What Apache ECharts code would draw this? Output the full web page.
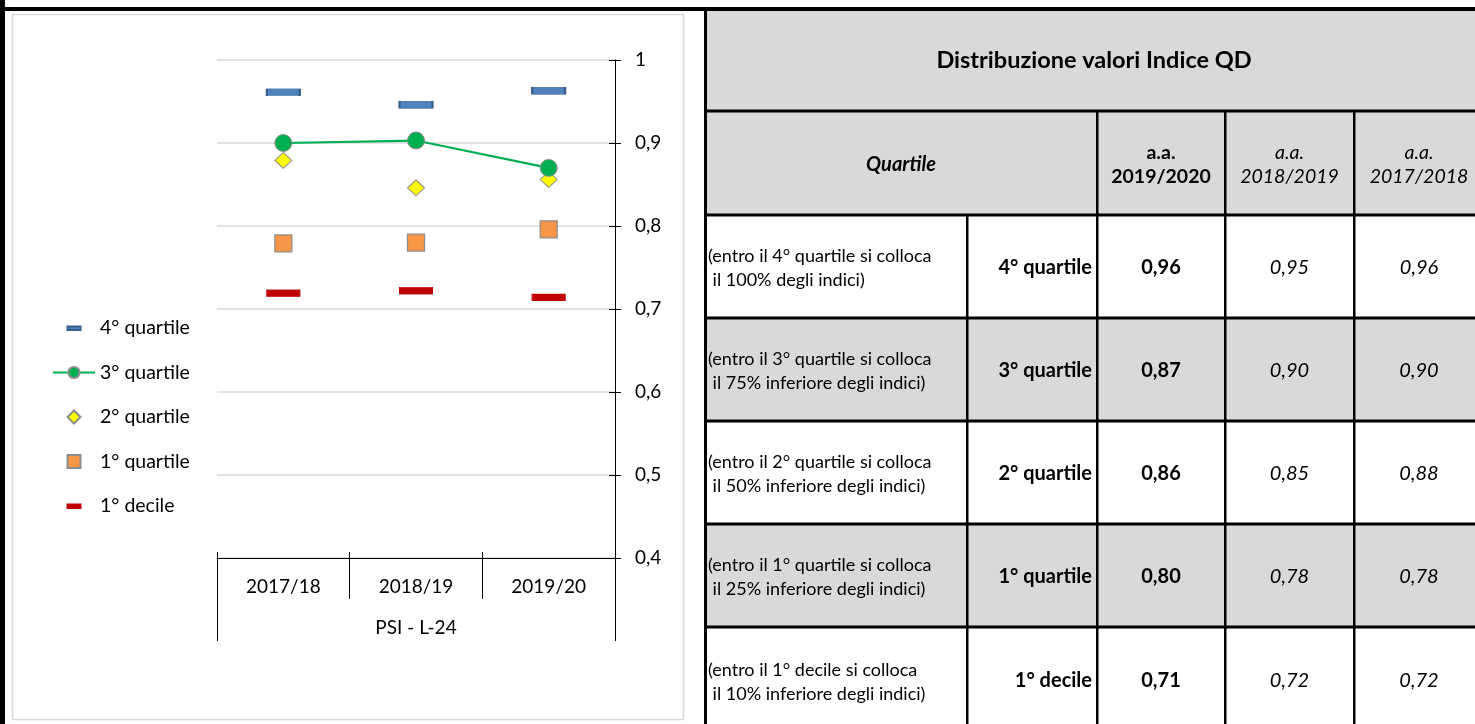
<!DOCTYPE html>
<html>
<head>
<meta charset="utf-8">
<script src="https://cdn.jsdelivr.net/npm/echarts/dist/echarts.min.js"></script>
<style>
html,body{margin:0;padding:0;background:#ffffff;}
#chart{width:1475px;height:724px;}
</style>
</head>
<body>
<div id="chart"></div>
<script>
// ---------- data ----------
const categories = ['2017/18', '2018/19', '2019/20'];
const groupLabels = ['PSI - L-24'];
const seriesNames = ['4° quartile', '3° quartile', '2° quartile', '1° quartile', '1° decile'];
const quartile4 = [0.961, 0.946, 0.963];
const quartile3 = [0.900, 0.903, 0.870];
const quartile2 = [0.879, 0.846, 0.856];
const quartile1 = [0.779, 0.780, 0.796];
const decile1 = [0.719, 0.722, 0.714];
const yMin = 0.4;
const yMax = 1;
const yStep = 0.1;

const tableTitle = 'Distribuzione valori Indice QD';
const headerQuartile = 'Quartile';
const yearHeaders = ['a.a.\n2019/2020', 'a.a.\n2018/2019', 'a.a.\n2017/2018'];
const yearIndexOrder = [2, 1, 0];
const rowLabels = ['4° quartile', '3° quartile', '2° quartile', '1° quartile', '1° decile'];
const rowNotes = [
  '(entro il 4° quartile si colloca\n il 100% degli indici)',
  '(entro il 3° quartile si colloca\n il 75% inferiore degli indici)',
  '(entro il 2° quartile si colloca\n il 50% inferiore degli indici)',
  '(entro il 1° quartile si colloca\n il 25% inferiore degli indici)',
  '(entro il 1° decile si colloca\n il 10% inferiore degli indici)'
];

// ---------- styling ----------
const FONT = 'Lato';
const GRID_GRAY = '#d9d9d9';
const CELL_GRAY = '#d9d9d9';
const fmt = v => Number(v).toFixed(2).replace('.', ',');

const dashIcon = 'path://M0,0M42,14M14.5,5.5h13v3.5h-13z';
const diamondIcon = 'path://M0,0M42,14M21,0.5L27.5,7L21,13.5L14.5,7Z';
const squareIcon = 'path://M0,0M42,14M14.5,0.5h13v13h-13z';

// ---------- table graphics ----------
const colX = [705, 967, 1097, 1225, 1354, 1484];
const rowY = [11, 111, 215, 318, 421, 524, 627, 737];
const g = [];

// page frame
g.push({type: 'rect', shape: {x: 0, y: 0, width: 5, height: 724}, style: {fill: '#000'}, z: 10});
g.push({type: 'rect', shape: {x: 0, y: 7, width: 1475, height: 4}, style: {fill: '#000'}, z: 10});
// chart panel
g.push({type: 'rect', shape: {x: 12.5, y: 14.5, width: 671, height: 705}, style: {fill: 'none', stroke: GRID_GRAY, lineWidth: 1.5}, z: 0});

// table backgrounds
g.push({type: 'rect', shape: {x: colX[0], y: rowY[0], width: 1475 - colX[0], height: rowY[2] - rowY[0]}, style: {fill: CELL_GRAY}, z: 1});
for (let r = 0; r < rowLabels.length; r++) {
  const y0 = rowY[r + 2], y1 = rowY[r + 3];
  g.push({type: 'rect', shape: {x: colX[0], y: y0, width: 1475 - colX[0], height: y1 - y0},
    style: {fill: r % 2 === 1 ? CELL_GRAY : '#ffffff'}, z: 1});
}
// table lines
g.push({type: 'rect', shape: {x: 704, y: rowY[0], width: 3, height: 724 - rowY[0]}, style: {fill: '#000'}, z: 5});
for (let i = 1; i < rowY.length - 1; i++) {
  g.push({type: 'rect', shape: {x: colX[0], y: rowY[i] - 1.5, width: 1475 - colX[0], height: 3}, style: {fill: '#000'}, z: 5});
}
for (let c = 2; c < 5; c++) {
  g.push({type: 'rect', shape: {x: colX[c] - 1, y: rowY[1], width: 2.5, height: 724 - rowY[1]}, style: {fill: '#000'}, z: 5});
}
g.push({type: 'rect', shape: {x: colX[1] - 1, y: rowY[2], width: 2.5, height: 724 - rowY[2]}, style: {fill: '#000'}, z: 5});

// table texts
function txt(text, x, y, opts) {
  g.push({type: 'text', z: 6, style: Object.assign({
    text: text, x: x, y: y, fill: '#000', fontFamily: FONT, fontSize: 20,
    align: 'center', verticalAlign: 'middle', lineHeight: 24
  }, opts || {})});
}
txt(tableTitle, 1094, 60, {fontWeight: 'bold', fontSize: 23.5});
txt(headerQuartile, (colX[0] + colX[2]) / 2, 165, {fontWeight: 'bold', fontStyle: 'italic'});
for (let k = 0; k < 3; k++) {
  txt(yearHeaders[k], (colX[k + 2] + colX[k + 3]) / 2, 165,
    k === 0 ? {fontWeight: 'bold', fontSize: 19.5} : {fontStyle: 'italic', fontSize: 19.5});
}
const rowSeries = [quartile4, quartile3, quartile2, quartile1, decile1];
for (let r = 0; r < rowLabels.length; r++) {
  const cy = r === rowLabels.length - 1 ? 681 : (rowY[r + 2] + rowY[r + 3]) / 2 + 1;
  txt(rowNotes[r], 708, cy + 1, {align: 'left', fontSize: 18});
  txt(rowLabels[r], colX[2] - 5, cy, {align: 'right', fontWeight: 'bold'});
  for (let k = 0; k < 3; k++) {
    txt(fmt(rowSeries[r][yearIndexOrder[k]]), (colX[k + 2] + colX[k + 3]) / 2, cy,
      k === 0 ? {fontWeight: 'bold'} : {fontStyle: 'italic'});
  }
}

// ---------- chart ----------
const chart = echarts.init(document.getElementById('chart'));
const axisText = {fontFamily: FONT, fontSize: 19, color: '#000'};
const option = {
  animation: false,
  backgroundColor: '#ffffff',
  textStyle: {fontFamily: FONT},
  grid: {left: 217, top: 60, width: 398, height: 498, containLabel: false, outerBoundsMode: 'none'},
  legend: {
    orient: 'vertical', left: 52, top: 318, padding: 0, itemWidth: 42, itemHeight: 14, itemGap: 24.5,
    selectedMode: false,
    textStyle: {fontFamily: FONT, fontSize: 19.5, color: '#000'},
    data: [
      {name: seriesNames[0], icon: dashIcon},
      {name: seriesNames[1]},
      {name: seriesNames[2], icon: diamondIcon},
      {name: seriesNames[3], icon: squareIcon},
      {name: seriesNames[4], icon: dashIcon}
    ]
  },
  xAxis: [
    {type: 'category', data: categories, position: 'bottom', boundaryGap: true,
      axisLine: {show: true, lineStyle: {color: '#000', width: 1}},
      axisTick: {show: true, inside: false, length: 41, interval: 0, lineStyle: {color: '#000', width: 1}},
      axisLabel: Object.assign({margin: 19, interval: 0}, axisText),
      splitLine: {show: false}},
    {type: 'category', data: categories, position: 'bottom', boundaryGap: true,
      axisLine: {show: false},
      axisTick: {show: true, inside: true, length: 6, interval: 0, lineStyle: {color: '#000', width: 1}},
      axisLabel: {show: false}, splitLine: {show: false}},
    {type: 'category', data: groupLabels, position: 'bottom', boundaryGap: true,
      axisLine: {show: false},
      axisTick: {show: true, inside: false, length: 83, interval: 0, lineStyle: {color: '#000', width: 1}},
      axisLabel: Object.assign({margin: 60, interval: 0}, axisText),
      splitLine: {show: false}}
  ],
  yAxis: [
    {type: 'value', position: 'right', min: yMin, max: yMax, interval: yStep,
      axisLine: {show: true, lineStyle: {color: '#000', width: 1}},
      axisTick: {show: true, inside: false, length: 6, lineStyle: {color: '#000'}},
      axisLabel: Object.assign({margin: 20, formatter: v => String(Number(v.toFixed(1))).replace('.', ',')}, axisText),
      splitLine: {show: true, lineStyle: {color: GRID_GRAY, width: 1.5}}},
    {type: 'value', position: 'right', min: yMin, max: yMax, interval: yStep,
      axisLine: {show: false},
      axisTick: {show: true, inside: true, length: 6, lineStyle: {color: '#000'}},
      axisLabel: {show: false}, splitLine: {show: false}}
  ],
  series: [
    {name: seriesNames[0], type: 'scatter', data: quartile4, symbol: 'rect', symbolSize: [33, 7],
      itemStyle: {color: '#4f81bd', borderColor: '#385d8a', borderWidth: 1, opacity: 1}},
    {name: seriesNames[1], type: 'line', data: quartile3, symbol: 'circle', symbolSize: 17, showAllSymbol: true,
      lineStyle: {color: '#00b050', width: 2.25},
      itemStyle: {color: '#00b050', borderColor: '#8c8c8c', borderWidth: 1}},
    {name: seriesNames[2], type: 'scatter', data: quartile2, symbol: 'diamond', symbolSize: [17, 16],
      itemStyle: {color: '#ffff00', borderColor: '#8c8c8c', borderWidth: 1, opacity: 1}},
    {name: seriesNames[3], type: 'scatter', data: quartile1, symbol: 'rect', symbolSize: 17,
      itemStyle: {color: '#f79646', borderColor: '#8c8c8c', borderWidth: 1.25, opacity: 1}},
    {name: seriesNames[4], type: 'scatter', data: decile1, symbol: 'rect', symbolSize: [33, 7],
      itemStyle: {color: '#c00000', borderColor: '#c00000', borderWidth: 0.5, opacity: 1}}
  ],
  graphic: {elements: g}
};
chart.setOption(option);
</script>
</body>
</html>
